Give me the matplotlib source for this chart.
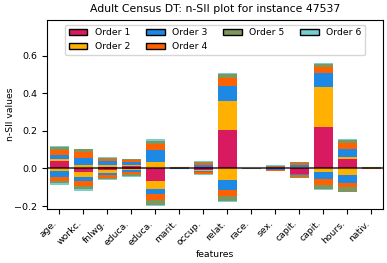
import numpy as np
import matplotlib
matplotlib.use('Agg')
import matplotlib.pyplot as plt
from matplotlib.patches import Patch

features = ["age.", "workc.", "fnlwg.", "educa.", "educa.", "marit.", "occup.",
            "relat.", "race.", "sex.", "capit.", "capit.", "hours.", "nativ."]

# positive contributions per order (order 1 .. order 6)
pos_o1 = [0.039, 0.000, 0.005, 0.012, 0.002, 0.000, 0.005, 0.206, 0.000, 0.002, 0.000, 0.222, 0.048, 0.000]
pos_o2 = [0.012, 0.018, 0.012, 0.008, 0.034, 0.000, 0.005, 0.155, 0.000, 0.002, 0.006, 0.213, 0.014, 0.000]
pos_o3 = [0.023, 0.039, 0.024, 0.015, 0.060, 0.002, 0.010, 0.076, 0.000, 0.004, 0.011, 0.073, 0.039, 0.001]
pos_o4 = [0.023, 0.030, 0.011, 0.010, 0.032, 0.003, 0.010, 0.044, 0.000, 0.005, 0.010, 0.032, 0.034, 0.003]
pos_o5 = [0.016, 0.014, 0.004, 0.003, 0.020, 0.001, 0.004, 0.020, 0.001, 0.002, 0.005, 0.014, 0.016, 0.001]
pos_o6 = [0.004, 0.005, 0.004, 0.002, 0.007, 0.001, 0.003, 0.007, 0.000, 0.001, 0.004, 0.007, 0.007, 0.001]

# negative contributions per order (order 1 .. order 6)
neg_o1 = [0.000, -0.018, -0.010, -0.004, -0.068, 0.000, -0.008, 0.000, 0.000, -0.001, -0.028, 0.000, 0.000, 0.000]
neg_o2 = [-0.014, -0.027, -0.012, -0.006, -0.044, 0.000, -0.005, -0.063, 0.000, -0.002, -0.004, -0.021, -0.034, 0.000]
neg_o3 = [-0.034, -0.021, -0.012, -0.010, -0.023, -0.002, -0.008, -0.050, 0.000, -0.005, -0.004, -0.037, -0.041, 0.000]
neg_o4 = [-0.020, -0.025, -0.016, -0.012, -0.032, -0.001, -0.007, -0.034, 0.000, -0.004, -0.007, -0.028, -0.025, -0.003]
neg_o5 = [-0.012, -0.021, -0.008, -0.010, -0.025, -0.002, -0.003, -0.027, -0.001, -0.002, -0.006, -0.023, -0.023, -0.001]
neg_o6 = [-0.007, -0.009, -0.004, -0.003, -0.009, 0.000, -0.003, -0.007, 0.000, -0.001, -0.003, -0.007, -0.005, -0.001]

colors = ["#D81B60", "#FFB000", "#1E88E5", "#FE6100", "#7F975F", "#74CED2"]

values_pos = np.array([pos_o1, pos_o2, pos_o3, pos_o4, pos_o5, pos_o6])
values_neg = np.array([neg_o1, neg_o2, neg_o3, neg_o4, neg_o5, neg_o6])

fig, ax = plt.subplots(figsize=(3.87, 2.63), dpi=100)
x = np.arange(len(features))

ref_pos = np.zeros(len(features))
ref_neg = np.zeros(len(features))
for k in range(len(values_pos)):
    ax.bar(x, values_pos[k], bottom=ref_pos, color=colors[k], width=0.8)
    ax.bar(x, values_neg[k], bottom=ref_neg, color=colors[k], width=0.8)
    ref_pos += values_pos[k]
    ref_neg += values_neg[k]

ax.axhline(0, color="black", linewidth=1.5, alpha=0.65)

handles = [Patch(facecolor=colors[k], edgecolor="black", label=f"Order {k + 1}") for k in range(6)]
ax.legend(handles=handles, loc="upper center", ncol=4, fontsize=6.7,
          handlelength=2.0, columnspacing=1.7, borderpad=0.4)

lo, hi = ref_neg.min(), ref_pos.max()
span = hi - lo
ax.set_ylim(lo - span * 0.02, hi + span * 0.3)
ax.set_xlim(-0.5, len(features) - 0.5)

ax.set_xticks(x)
ax.set_xticklabels(features, rotation=45, ha="right", fontsize=6.7)
ax.tick_params(axis="y", labelsize=6.8)
ax.set_title("Adult Census DT: n-SII plot for instance 47537", fontsize=7.8)
ax.set_xlabel("features", fontsize=6.7, labelpad=2)
ax.set_ylabel("n-SII values", fontsize=6.7)
ax.yaxis.set_label_coords(-0.095, 0.5)

plt.subplots_adjust(left=0.122, right=0.99, top=0.924, bottom=0.205)
plt.savefig("out.png", dpi=100)
plt.close()
